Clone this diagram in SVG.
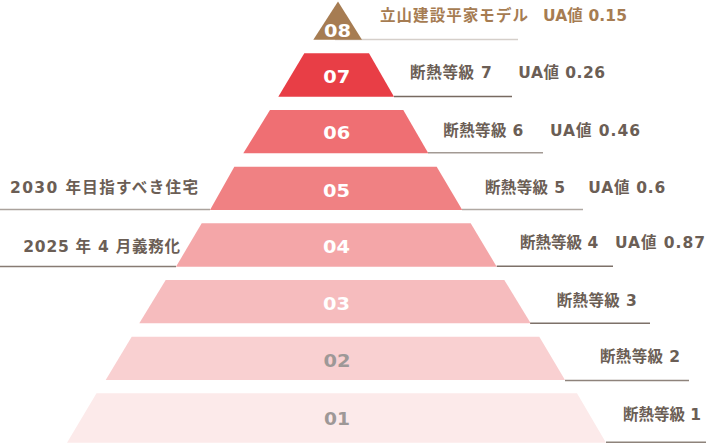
<svg xmlns="http://www.w3.org/2000/svg" width="708" height="444" viewBox="0 0 708 444">
<style>
.num{font-family:"DejaVu Sans","Noto Sans",sans-serif;font-weight:bold;font-size:18.5px;text-anchor:middle;fill:#fff}
.num.g{fill:#9e9897}
.lb{font-family:"DejaVu Sans","Noto Sans CJK JP",sans-serif;font-weight:bold;font-size:15.5px;fill:#6b5e55}
.lb.br{fill:#a67c52}
.ln{stroke-width:1.5;fill:none}
</style>
<rect width="708" height="444" fill="#fff"/>
<g id="connectors">
<line class="ln" x1="335" y1="39.5" x2="518" y2="39.5" stroke="#d5cfca"/>
<line class="ln" x1="394" y1="96.5" x2="512" y2="96.5" stroke="#776a61"/>
<line class="ln" x1="428" y1="152.7" x2="543" y2="152.7" stroke="#a39a94"/>
<line class="ln" x1="462" y1="209.5" x2="583" y2="209.5" stroke="#b0a8a2"/>
<line class="ln" x1="0" y1="209.5" x2="210" y2="209.5" stroke="#aaa29c"/>
<line class="ln" x1="496.7" y1="266.3" x2="613" y2="266.3" stroke="#7d7169"/>
<line class="ln" x1="0" y1="266.5" x2="176" y2="266.5" stroke="#877b73"/>
<line class="ln" x1="530" y1="323.3" x2="650" y2="323.3" stroke="#7d7169"/>
<line class="ln" x1="565" y1="380.5" x2="689" y2="380.5" stroke="#8e837b"/>
<line class="ln" x1="606" y1="442.2" x2="706" y2="442.2" stroke="#8e837b"/>
</g>
<g id="tier08">
<polygon points="338,1.5 362,39.7 313.3,39.7" fill="#a67c52"/>
<text class="num" x="337.5" y="36.5" textLength="27" lengthAdjust="spacingAndGlyphs">08</text>
<text class="lb br" x="380" y="21" textLength="148" lengthAdjust="spacing">立山建設平家モデル</text>
<text class="lb br" x="543" y="21" textLength="84" lengthAdjust="spacing">UA値 0.15</text>
</g>
<g id="tier07">
<polygon points="304.3,53.3 369,53.3 394,96.7 278.3,96.7" fill="#e83e46"/>
<text class="num" x="336.7" y="83.3" textLength="27" lengthAdjust="spacingAndGlyphs">07</text>
<text class="lb" x="410" y="77.5" textLength="81.7" lengthAdjust="spacing">断熱等級 7</text>
<text class="lb" x="518.3" y="77.5" textLength="86.7" lengthAdjust="spacing">UA値 0.26</text>
</g>
<g id="tier06">
<polygon points="270,110 403.3,110 428.3,153.3 243.3,153.3" fill="#ef6f73"/>
<text class="num" x="336.7" y="139.3" textLength="27" lengthAdjust="spacingAndGlyphs">06</text>
<text class="lb" x="443.3" y="136" textLength="80" lengthAdjust="spacing">断熱等級 6</text>
<text class="lb" x="550" y="136" textLength="90" lengthAdjust="spacing">UA値 0.46</text>
</g>
<g id="tier05">
<polygon points="234.3,166.7 436.7,166.7 462.3,210 210,210" fill="#f08183"/>
<text class="num" x="336.5" y="196.7" textLength="27" lengthAdjust="spacingAndGlyphs">05</text>
<text class="lb" x="485" y="193" textLength="80" lengthAdjust="spacing">断熱等級 5</text>
<text class="lb" x="588.3" y="193" textLength="77" lengthAdjust="spacing">UA値 0.6</text>
<text class="lb" x="10" y="193" textLength="188" lengthAdjust="spacing">2030 年目指すべき住宅</text>
</g>
<g id="tier04">
<polygon points="201.7,223.3 470.7,223.3 496.7,266.7 176,266.7" fill="#f4a6a8"/>
<text class="num" x="336.5" y="253.3" textLength="27" lengthAdjust="spacingAndGlyphs">04</text>
<text class="lb" x="520" y="248.3" textLength="78.3" lengthAdjust="spacing">断熱等級 4</text>
<text class="lb" x="615" y="248.3" textLength="90" lengthAdjust="spacing">UA値 0.87</text>
<text class="lb" x="23.3" y="251.5" textLength="156.7" lengthAdjust="spacing">2025 年 4 月義務化</text>
</g>
<g id="tier03">
<polygon points="165.7,280 504.3,280 530.7,323.3 139.3,323.3" fill="#f6bcbe"/>
<text class="num" x="336.5" y="310" textLength="27" lengthAdjust="spacingAndGlyphs">03</text>
<text class="lb" x="556.7" y="305.5" textLength="80" lengthAdjust="spacing">断熱等級 3</text>
</g>
<g id="tier02">
<polygon points="131.7,336.7 539.3,336.7 565,380 105.7,380" fill="#f9d0d1"/>
<text class="num g" x="337" y="366.7" textLength="27" lengthAdjust="spacingAndGlyphs">02</text>
<text class="lb" x="600" y="362" textLength="80" lengthAdjust="spacing">断熱等級 2</text>
</g>
<g id="tier01">
<polygon points="96.5,393.3 577,393.3 606,442.7 67,442.7" fill="#fceaea"/>
<text class="num g" x="337" y="425" textLength="26" lengthAdjust="spacingAndGlyphs">01</text>
<text class="lb" x="623" y="420" textLength="78" lengthAdjust="spacing">断熱等級 1</text>
</g>
</svg>
